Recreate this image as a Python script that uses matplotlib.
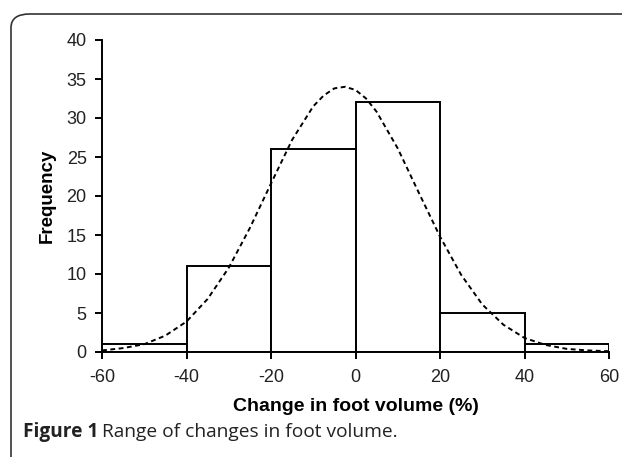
import matplotlib.pyplot as plt
from matplotlib.patches import FancyBboxPatch

# histogram of change in foot volume
bin_edges = [-60, -40, -20, 0, 20, 40, 60]
counts = [1, 11, 26, 32, 5, 1]

# fitted normal curve
curve_x = [-60, -55, -50, -45, -40, -35, -30, -25, -20, -15, -10, -7.5, -5, -2.5, 0,
           2.5, 5, 10, 15, 20, 25, 30, 35, 40, 45, 50, 55, 60]
curve_y = [0.2, 0.5, 1.0, 2.1, 3.9, 6.8, 10.8, 15.9, 21.6, 27.2, 31.5, 32.9, 33.8, 34.0, 33.6,
           32.5, 30.8, 26.1, 20.4, 14.8, 9.9, 6.1, 3.5, 1.8, 0.9, 0.4, 0.2, 0.1]

xticks = [-60, -40, -20, 0, 20, 40, 60]
yticks = [0, 5, 10, 15, 20, 25, 30, 35, 40]

plt.rcParams['font.family'] = ['Liberation Sans', 'DejaVu Sans']
plt.rcParams['axes.unicode_minus'] = False

fig = plt.figure(figsize=(6.22, 4.57), dpi=100)
ax = fig.add_axes([102 / 622, 1 - 352 / 457, 507 / 622, 312 / 457])

widths = [bin_edges[i + 1] - bin_edges[i] for i in range(len(counts))]
ax.bar(bin_edges[:-1], counts, width=widths, align='edge',
       facecolor='white', edgecolor='black', linewidth=1.4, zorder=2)
ax.plot(curve_x, curve_y, color='black', linestyle=(0, (2.5, 1.8)),
        linewidth=1.4, zorder=3)

ax.set_xlim(-60, 60)
ax.set_ylim(0, 40)
ax.set_xticks(xticks)
ax.set_yticks(yticks)
ax.tick_params(labelsize=13, width=1.4, length=5, direction='out',
               colors='black', labelcolor='#222222')
ax.tick_params(axis='x', pad=7)
ax.tick_params(axis='y', pad=6)
for s in ['top', 'right']:
    ax.spines[s].set_visible(False)
for s in ['left', 'bottom']:
    ax.spines[s].set_linewidth(1.4)

ax.set_xlabel('Change in foot volume (%)', fontsize=14, fontweight='bold', labelpad=9)
ax.set_ylabel('Frequency', fontsize=13.5, fontweight='bold', labelpad=8)

# rounded frame, running off the right and bottom edges
frame = FancyBboxPatch((11 / 622, -0.2), 1.2, 1.2 - 14 / 457,
                       boxstyle='round,pad=0,rounding_size=0.03',
                       transform=fig.transFigure, facecolor='none',
                       edgecolor='#333333', linewidth=1.2, clip_on=False)
fig.patches.append(frame)

cap_y = 1 - 432 / 457
t = fig.text(23 / 622, cap_y, 'Figure 1', fontsize=13.8, fontweight='bold',
             color='#222222', family=['Open Sans', 'DejaVu Sans'], va='center')
fig.canvas.draw()
bb = t.get_window_extent()
fig.text((bb.x1 + 4) / 622, cap_y, 'Range of changes in foot volume.',
         fontsize=13.8, color='#222222', family=['Open Sans', 'DejaVu Sans'], va='center')

plt.savefig('out.png', dpi=100)
